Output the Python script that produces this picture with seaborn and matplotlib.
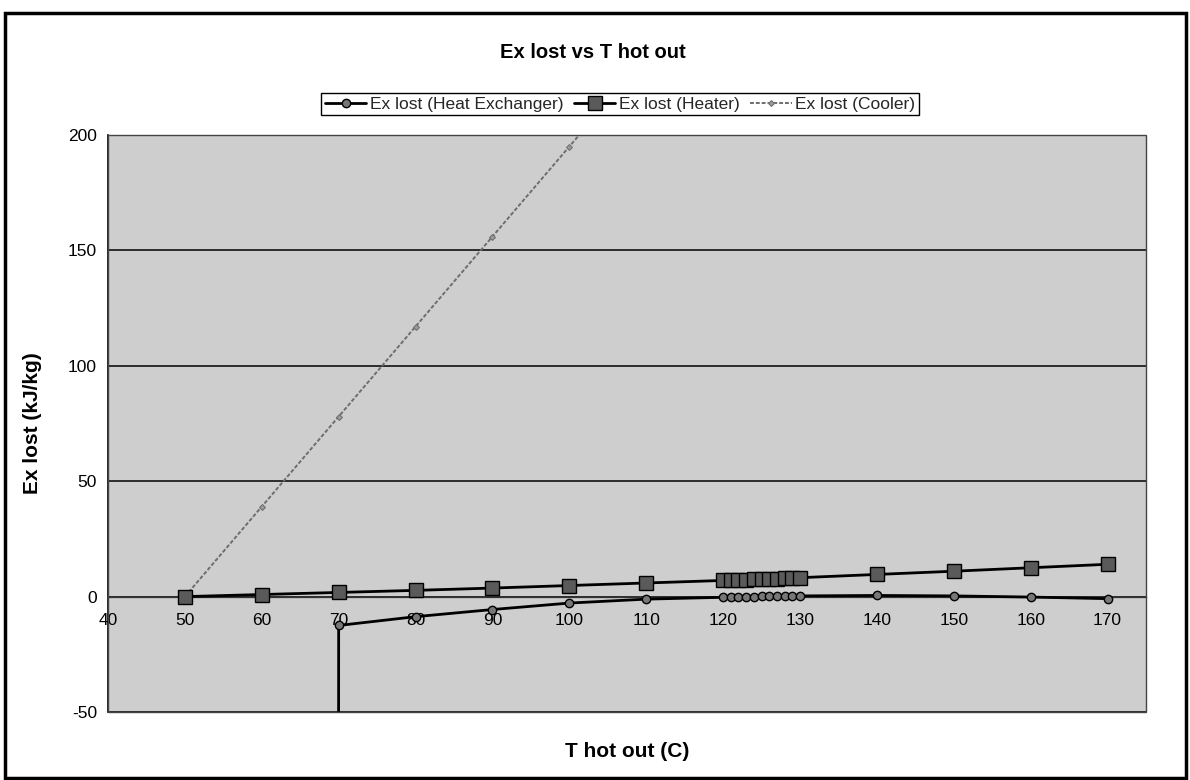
import numpy as np
import pandas as pd
import matplotlib
matplotlib.use("Agg")
import matplotlib.pyplot as plt
from matplotlib.patches import Rectangle
import seaborn as sns

# ---------------- data ----------------
hx_t = [69.9, 70, 80, 90, 100, 110, 120, 121, 122, 123, 124, 125, 126, 127, 128, 129, 130, 140, 150, 160, 170]
hx_ex = [-400, -12.5, -8.7, -5.6, -2.8, -1.1, -0.3, -0.2, -0.1, -0.05, 0.0, 0.05, 0.1, 0.15, 0.2, 0.25, 0.3, 0.5, 0.3, -0.2, -0.9]

heater_t = [50, 60, 70, 80, 90, 100, 110, 120, 121, 122, 123, 124, 125, 126, 127, 128, 129, 130, 140, 150, 160, 170]
heater_ex = [0.0, 0.9, 1.8, 2.7, 3.7, 4.8, 5.9, 7.0, 7.1, 7.2, 7.3, 7.45, 7.6, 7.7, 7.8, 7.95, 8.1, 8.2, 9.6, 11.0, 12.5, 14.0]

cooler_t = [50, 60, 70, 80, 90, 100, 110, 120, 130, 140, 150, 160, 170]
cooler_ex = [0, 39, 78, 117, 156, 195, 234, 273, 312, 351, 390, 429, 468]

series_names = ["Ex lost (Heat Exchanger)", "Ex lost (Heater)", "Ex lost (Cooler)"]
y_ticks = [-50, 0, 50, 100, 150, 200]
x_ticks = [40, 50, 60, 70, 80, 90, 100, 110, 120, 130, 140, 150, 160, 170]

# ---------------- style ----------------
sns.set_theme(style="white")
plt.rcParams["font.family"] = ["Liberation Sans", "DejaVu Sans"]

fig = plt.figure(figsize=(11.9, 7.8), dpi=100)
ax = fig.add_axes([108 / 1190, 68 / 780, 1038 / 1190, 577 / 780])
ax.set_facecolor("#cecece")

df_hx = pd.DataFrame({"T": hx_t, "Ex": hx_ex})
df_he = pd.DataFrame({"T": heater_t, "Ex": heater_ex})
df_co = pd.DataFrame({"T": cooler_t, "Ex": cooler_ex})

sns.lineplot(data=df_co, x="T", y="Ex", ax=ax, estimator=None, sort=False,
             color="#6e6e6e", linewidth=1.4, linestyle=(0, (2, 1)), marker="D", markersize=3,
             markerfacecolor="#9a9a9a", markeredgecolor="#6e6e6e",
             label=series_names[2], zorder=3)
sns.lineplot(data=df_he, x="T", y="Ex", ax=ax, estimator=None, sort=False,
             color="black", linewidth=2.0, marker="s", markersize=9.5,
             markerfacecolor="#5a5a5a", markeredgecolor="black", markeredgewidth=1.0,
             label=series_names[1], zorder=4)
sns.lineplot(data=df_hx, x="T", y="Ex", ax=ax, estimator=None, sort=False,
             color="black", linewidth=2.0, marker="o", markersize=6,
             markerfacecolor="#777777", markeredgecolor="black", markeredgewidth=1.0,
             label=series_names[0], zorder=5)

ax.set_xlim(40, 175)
ax.set_ylim(-50, 200)
ax.set_xticks(x_ticks)
ax.set_yticks(y_ticks)
ax.set_xticklabels([str(v) for v in x_ticks])
ax.set_yticklabels([str(v) for v in y_ticks])

# gridlines
ax.yaxis.grid(True, color="black", linewidth=1.1)
ax.xaxis.grid(False)
ax.set_axisbelow(True)

# spines
ax.spines["bottom"].set_position(("data", 0))
ax.spines["bottom"].set_color("#333333")
ax.spines["bottom"].set_linewidth(0.9)
ax.spines["left"].set_color("black")
ax.spines["left"].set_linewidth(1.2)
for s in ["top", "right"]:
    ax.spines[s].set_visible(False)
ax.add_patch(Rectangle((0, 0), 1, 1, transform=ax.transAxes, fill=False,
                       edgecolor="#444444", linewidth=1.0, zorder=6, clip_on=False))

ax.tick_params(axis="y", direction="out", length=5, width=1, color="black",
               pad=3, labelsize=12.5, labelcolor="black")
ax.tick_params(axis="x", direction="out", length=4, width=1, color="black",
               pad=8, labelsize=12.5, labelcolor="black")

ax.set_xlabel("T hot out (C)", fontsize=15, fontweight="bold", color="black")
ax.set_ylabel("Ex lost (kJ/kg)", fontsize=15, fontweight="bold", color="black")
ax.xaxis.set_label_coords(0.5, -0.052)
ax.yaxis.set_label_coords(-0.064, 0.5)

fig.text(0.498, 1 - 52 / 780, "Ex lost vs T hot out", ha="center", va="center",
         fontsize=14.5, fontweight="bold", color="black")

handles, labels = ax.get_legend_handles_labels()
order = [labels.index(n) for n in series_names]
ax.legend([handles[i] for i in order], [labels[i] for i in order],
          loc="center", bbox_to_anchor=(620 / 1190, 1 - 104 / 780),
          bbox_transform=fig.transFigure, ncol=3, fontsize=12.5,
          frameon=True, fancybox=False, edgecolor="black", framealpha=1,
          handlelength=2.4, handletextpad=0.2, columnspacing=0.6,
          borderpad=0.2, borderaxespad=0)
ax.get_legend().get_frame().set_linewidth(1.0)

fig.patches.append(Rectangle((5 / 1190, 2 / 780), 1181 / 1190, 765 / 780,
                             transform=fig.transFigure, fill=False,
                             edgecolor="black", linewidth=2.5))

fig.savefig("out.png", dpi=100)
